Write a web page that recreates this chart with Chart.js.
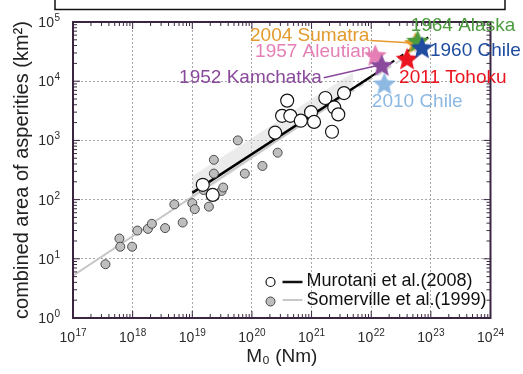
<!DOCTYPE html>
<html>
<head>
<meta charset="utf-8">
<script src="https://cdn.jsdelivr.net/npm/chart.js@4.4.0/dist/chart.umd.min.js"></script>
<style>
  html, body { margin: 0; padding: 0; background: #fff; }
  #wrap { width: 523px; height: 374px; position: relative; }
</style>
</head>
<body>
<div id="wrap"><canvas id="chart"></canvas></div>
<script>
// Values (log-log axes)
const xTickValues = [1e17, 1e18, 1e19, 1e20, 1e21, 1e22, 1e23, 1e24];
const yTickValues = [1, 10, 100, 1e3, 1e4, 1e5];

// Somerville et al. (1999) events, grey circles
const somervilleM0 = [3.5e17, 6.0e17, 6.2e17, 9.8e17, 1.2e18, 1.8e18, 2.1e18, 3.5e18, 5.0e18, 6.9e18, 1.0e19,
                      1.1e19, 1.9e19, 1.55e19, 2.3e19, 2.3e19, 3.1e19, 3.3e19, 5.8e19, 7.6e19, 1.5e20, 2.7e20];
const somervilleArea = [8.1, 22, 16, 16, 30, 32, 39, 33, 83, 41, 87,
                        69, 76, 145, 275, 470, 140, 160, 1000, 275, 370, 620];

// Murotani et al. (2008) events, open circles
const murotaniM0 = [1.5e19, 2.2e19, 2.45e20, 3.2e20, 4.4e20, 3.9e20, 6.6e20, 9.8e20, 1.1e21, 1.7e21, 2.4e21, 2.8e21, 3.5e21, 2.2e21];
const murotaniArea = [178, 120, 1350, 2600, 2600, 4700, 2150, 3000, 2050, 5200, 3600, 2750, 6300, 1400];

// scaling relations
const murotaniFitM0 = [1e19, 1e22];
const murotaniFitArea = [130, 12000];
const murotaniExtM0 = [1e22, 9e22];
const murotaniExtArea = [12000, 55000];
const somervilleFitM0 = [1e17, 3e21];
const somervilleFitArea = [5.2, 5000];
const somervilleExtM0 = [3e21, 7e22];
const somervilleExtArea = [5000, 38000];
const bandM0 = [1e19, 1e20, 1e21, 5e21];
const bandUpper = [250, 1100, 5000, 14000];
const bandLower = [100, 480, 2300, 7000];

// great earthquakes (stars), later ones drawn on top
const quakeNames = ['1957 Aleutian', '1952 Kamchatka', '2010 Chile', '2011 Tohoku', '2004 Sumatra', '1964 Alaska', '1960 Chile'];
const quakeM0 = [1.17e22, 1.5e22, 1.66e22, 4.0e22, 5.5e22, 6.0e22, 7.1e22];
const quakeArea = [27500, 18600, 9100, 24000, 44000, 48000, 37000];
const quakeColors = ['#e57fb5', '#8a4a9c', '#8db8e2', '#ea1520', '#e49a2c', '#4c9c3e', '#1f4c9f'];

const FONT = '"Liberation Sans", Arial, sans-serif';
const FRAME = '#3a2640';

function pts(xs, ys) {
    return xs.map((x, i) => ({ x: x, y: ys[i] }));
}

function makeStar(color, r) {
    const c = document.createElement('canvas');
    c.width = c.height = Math.ceil(2 * r + 2);
    const g = c.getContext('2d');
    const cx = c.width / 2, cy = c.height / 2 + r * 0.08;
    g.beginPath();
    for (let i = 0; i < 10; i++) {
        const rad = i % 2 === 0 ? r : r * 0.45;
        const a = -Math.PI / 2 + i * Math.PI / 5;
        g.lineTo(cx + rad * Math.cos(a), cy + rad * Math.sin(a));
    }
    g.closePath();
    g.fillStyle = color;
    g.fill();
    return c;
}

// "10" with a raised exponent, anchored at (x, baseline)
function drawPower(ctx, exp, x, y, align) {
    ctx.font = '14px ' + FONT;
    const wBase = ctx.measureText('10').width;
    ctx.font = '10px ' + FONT;
    const wExp = ctx.measureText(String(exp)).width;
    const total = wBase + wExp + 0.5;
    let left = x;
    if (align === 'center') left = x - total / 2;
    if (align === 'right') left = x - total;
    ctx.textAlign = 'left';
    ctx.font = '14px ' + FONT;
    ctx.fillText('10', left, y);
    ctx.font = '10px ' + FONT;
    ctx.fillText(String(exp), left + wBase + 0.5, y - 6);
}

// where each quake label sits, relative to its star (pixels)
const labelLayout = [
    { dx: -4, dy: 2, align: 'right' },
    { dx: -60, dy: 17.5, align: 'right', lx: -58, ly: 12.5 },
    { dx: -12.5, dy: 23, align: 'left' },
    { dx: -8, dy: 24, align: 'left' },
    { dx: -46, dy: -2.5, align: 'right', lx: -45, ly: -2.5 },
    { dx: -7, dy: -10, align: 'left' },
    { dx: 8, dy: 8, align: 'left' }
];

const decorPlugin = {
    id: 'decor',
    beforeDraw(chart) {
        const ctx = chart.ctx;
        // cropped caption box along the top edge
        ctx.save();
        ctx.strokeStyle = '#111';
        ctx.lineWidth = 1.5;
        ctx.strokeRect(55, -10, 450, 19.5);
        ctx.restore();
    },
    afterDatasetsDraw(chart) {
        const ctx = chart.ctx;
        const a = chart.chartArea;
        const xs = chart.scales.x, ys = chart.scales.y;

        // frame
        ctx.save();
        ctx.lineWidth = 2;
        ctx.strokeStyle = FRAME;
        ctx.strokeRect(a.left, a.top, a.right - a.left, a.bottom - a.top);

        // inward minor/major ticks on all four sides
        ctx.lineWidth = 1;
        ctx.beginPath();
        for (let i = 0; i < xTickValues.length - 1; i++) {
            for (let k = 1; k <= 9; k++) {
                const px = xs.getPixelForValue(k * xTickValues[i]);
                const len = k === 1 ? 7 : 4;
                ctx.moveTo(px, a.bottom); ctx.lineTo(px, a.bottom - len);
                ctx.moveTo(px, a.top); ctx.lineTo(px, a.top + len);
            }
        }
        for (let i = 0; i < yTickValues.length - 1; i++) {
            for (let k = 1; k <= 9; k++) {
                const py = ys.getPixelForValue(k * yTickValues[i]);
                const len = k === 1 ? 7 : 4;
                ctx.moveTo(a.left, py); ctx.lineTo(a.left + len, py);
                ctx.moveTo(a.right, py); ctx.lineTo(a.right - len, py);
            }
        }
        ctx.stroke();

        // tick labels: powers of ten
        ctx.fillStyle = '#2a2a2a';
        ctx.textBaseline = 'alphabetic';
        xTickValues.forEach(v => {
            drawPower(ctx, Math.round(Math.log10(v)), xs.getPixelForValue(v), a.bottom + 24, 'center');
        });
        yTickValues.forEach(v => {
            drawPower(ctx, Math.round(Math.log10(v)), a.left - 13, ys.getPixelForValue(v) + 5, 'right');
        });

        // quake labels and leader lines
        ctx.font = '19px ' + FONT;
        quakeNames.forEach((name, i) => {
            const sx = xs.getPixelForValue(quakeM0[i]);
            const sy = ys.getPixelForValue(quakeArea[i]);
            const L = labelLayout[i];
            if (L.lx !== undefined) {
                ctx.strokeStyle = quakeColors[i];
                ctx.lineWidth = 1.5;
                ctx.beginPath();
                ctx.moveTo(sx + L.lx, sy + L.ly);
                ctx.lineTo(sx - 3, sy);
                ctx.stroke();
            }
            ctx.fillStyle = quakeColors[i];
            ctx.textAlign = L.align;
            ctx.fillText(name, sx + L.dx, sy + L.dy);
        });
        ctx.restore();
    },
    afterDraw(chart) {
        const ctx = chart.ctx;
        const a = chart.chartArea;
        const lx = a.right - 220, ly = a.bottom - 36;
        ctx.save();
        // Murotani row
        ctx.beginPath();
        ctx.arc(lx, ly, 4.5, 0, 2 * Math.PI);
        ctx.fillStyle = '#fff';
        ctx.fill();
        ctx.strokeStyle = '#111';
        ctx.lineWidth = 1.2;
        ctx.stroke();
        ctx.beginPath();
        ctx.moveTo(lx + 12, ly); ctx.lineTo(lx + 32, ly);
        ctx.lineWidth = 2.5;
        ctx.stroke();
        // Somerville row
        ctx.beginPath();
        ctx.arc(lx, ly + 19.5, 4.5, 0, 2 * Math.PI);
        ctx.fillStyle = '#bdbdbd';
        ctx.fill();
        ctx.strokeStyle = '#444';
        ctx.lineWidth = 1;
        ctx.stroke();
        ctx.beginPath();
        ctx.moveTo(lx + 12, ly + 18); ctx.lineTo(lx + 32, ly + 18);
        ctx.strokeStyle = '#c8c8c8';
        ctx.lineWidth = 2;
        ctx.stroke();

        ctx.fillStyle = '#111';
        ctx.font = '18px ' + FONT;
        ctx.textAlign = 'left';
        ctx.textBaseline = 'alphabetic';
        ctx.fillText('Murotani et al.(2008)', lx + 36, ly + 4);
        ctx.fillText('Somerville et al.(1999)', lx + 36, ly + 23);
        ctx.restore();
    }
};

const lineBase = { type: 'line', pointRadius: 0, fill: false, tension: 0 };

new Chart(document.getElementById('chart').getContext('2d'), {
    type: 'scatter',
    data: {
        datasets: [
            {
                label: 'great earthquakes',
                data: pts(quakeM0, quakeArea),
                pointStyle: quakeColors.map(c => makeStar(c, 12)),
                pointRadius: 12,
                order: 0
            },
            {
                label: 'Murotani et al.(2008)',
                data: pts(murotaniM0, murotaniArea),
                pointRadius: 6.5,
                pointBackgroundColor: '#fff',
                pointBorderColor: '#151515',
                pointBorderWidth: 1.2,
                order: 1
            },
            {
                label: 'Somerville et al.(1999)',
                data: pts(somervilleM0, somervilleArea),
                pointRadius: 4.5,
                pointBackgroundColor: '#bebebe',
                pointBorderColor: '#4a4a4a',
                pointBorderWidth: 1,
                order: 2
            },
            Object.assign({}, lineBase, {
                label: 'Murotani fit',
                data: pts(murotaniFitM0, murotaniFitArea),
                borderColor: '#000', borderWidth: 2.5, order: 3
            }),
            Object.assign({}, lineBase, {
                label: 'Murotani extension',
                data: pts(murotaniExtM0, murotaniExtArea),
                borderColor: '#000', borderWidth: 2, borderDash: [6, 5], order: 3
            }),
            Object.assign({}, lineBase, {
                label: 'Somerville fit',
                data: pts(somervilleFitM0, somervilleFitArea),
                borderColor: '#c6c6c6', borderWidth: 2, order: 4
            }),
            Object.assign({}, lineBase, {
                label: 'Somerville extension',
                data: pts(somervilleExtM0, somervilleExtArea),
                borderColor: '#d4d4d4', borderWidth: 2, borderDash: [6, 5], order: 4
            }),
            Object.assign({}, lineBase, {
                label: 'band upper',
                data: pts(bandM0, bandUpper),
                borderWidth: 0, borderColor: 'transparent',
                fill: '+1', backgroundColor: 'rgba(210,210,210,0.45)', order: 6
            }),
            Object.assign({}, lineBase, {
                label: 'band lower',
                data: pts(bandM0, bandLower),
                borderWidth: 0, borderColor: 'transparent', order: 6
            })
        ]
    },
    options: {
        responsive: true,
        maintainAspectRatio: false,
        animation: false,
        devicePixelRatio: 1,
        layout: { padding: { left: 0, right: 32.5, top: 22, bottom: 0 } },
        plugins: {
            legend: { display: false },
            tooltip: { enabled: false }
        },
        scales: {
            x: {
                type: 'logarithmic',
                position: 'bottom',
                min: 1e17,
                max: 1e24,
                afterBuildTicks: s => { s.ticks = xTickValues.map(v => ({ value: v })); },
                afterFit: s => { s.height = 56; },
                grid: { color: '#a6a6a6', lineWidth: 1, drawTicks: false },
                border: { display: false, dash: [2, 2] },
                ticks: { display: false },
                title: {
                    display: true,
                    text: 'M₀ (Nm)',
                    color: '#222',
                    font: { family: FONT, size: 19 },
                    padding: { top: 0, bottom: 6 }
                }
            },
            y: {
                type: 'logarithmic',
                position: 'left',
                min: 1,
                max: 1e5,
                afterBuildTicks: s => { s.ticks = yTickValues.map(v => ({ value: v })); },
                afterFit: s => { s.width = 73; },
                grid: { color: '#a6a6a6', lineWidth: 1, drawTicks: false },
                border: { display: false, dash: [2, 2] },
                ticks: { display: false },
                title: {
                    display: true,
                    text: 'combined area of asperities (km²)',
                    color: '#222',
                    font: { family: FONT, size: 20 },
                    padding: { top: 10, bottom: 0 }
                }
            }
        }
    },
    plugins: [decorPlugin]
});
</script>
</body>
</html>
